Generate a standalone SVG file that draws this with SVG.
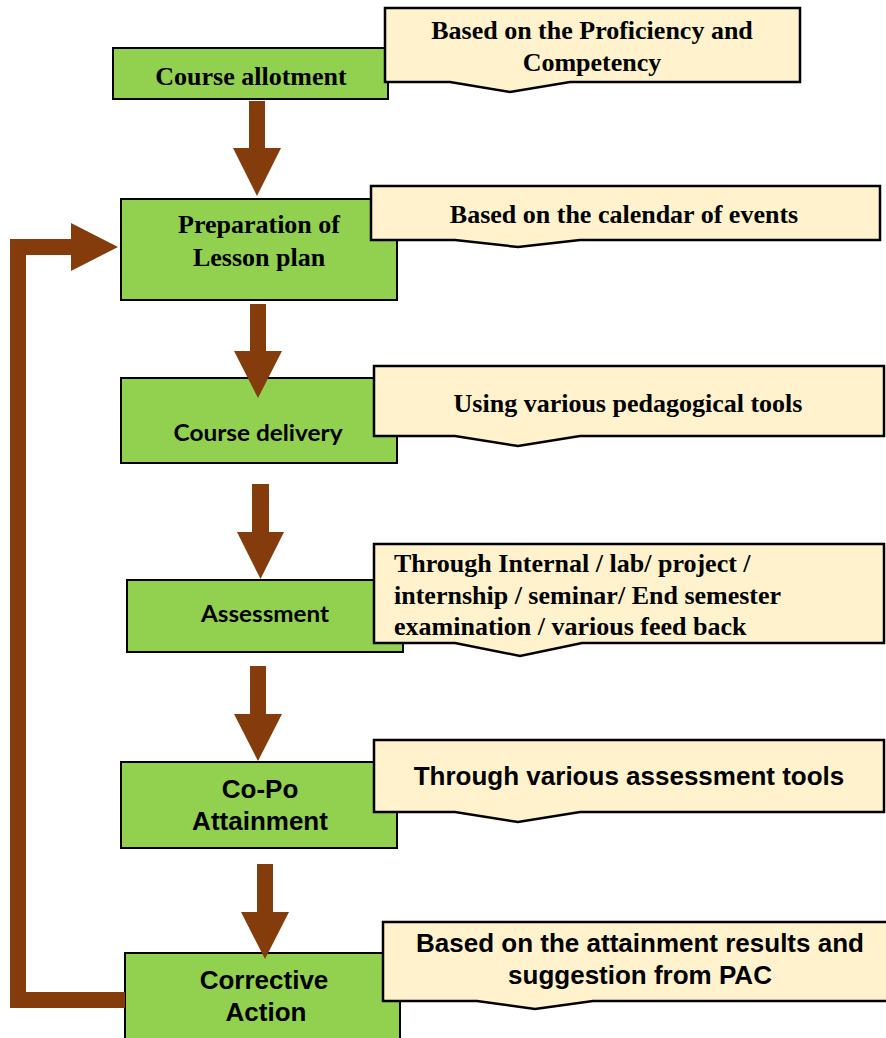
<svg xmlns="http://www.w3.org/2000/svg" width="886" height="1038" viewBox="0 0 886 1038">
<style>
.box{fill:#92D050;stroke:#000;stroke-width:2}
.call{fill:#FFF2CC;stroke:#000;stroke-width:2.5;stroke-linejoin:miter}
.arr{fill:#843C0C}
.tr{font-family:"Liberation Serif","Times New Roman",serif;font-weight:bold;font-size:26px;fill:#000}
.ar{font-family:"Liberation Sans",Arial,sans-serif;font-weight:bold;font-size:26px;fill:#000}
.ca{font-family:Lato,"Open Sans",sans-serif;font-weight:bold;font-size:22px;fill:#000}
.mid{text-anchor:middle}
</style>
<rect width="886" height="1038" fill="#fff"/>

<g id="node-course-allotment">
<rect class="box" x="113" y="48" width="275" height="51"/>
<text class="tr mid" x="251" y="85">Course allotment</text>
</g>
<g id="note-proficiency">
<path class="call" d="M385 8 H800 V82 H570 L510 92 L450 82 H385 Z"/>
<text class="tr mid" x="592" y="39">Based on the Proficiency and</text>
<text class="tr mid" x="592" y="71">Competency</text>
</g>

<g id="node-lesson-plan">
<rect class="box" x="121" y="199" width="276" height="101"/>
<text class="tr mid" x="259" y="233">Preparation of</text>
<text class="tr mid" x="259" y="266">Lesson plan</text>
</g>
<g id="note-calendar">
<path class="call" d="M371 186 H880 V240 H580 L518 247 L455 240 H371 Z"/>
<text class="tr mid" x="624" y="223">Based on the calendar of events</text>
</g>

<g id="node-course-delivery">
<rect class="box" x="121" y="378" width="276" height="85"/>
<text class="ca mid" x="258" y="441" textLength="169" lengthAdjust="spacingAndGlyphs">Course delivery</text>
</g>
<g id="note-pedagogical">
<path class="call" d="M374 366 H884 V436 H580 L518 446 L455 436 H374 Z"/>
<text class="tr mid" x="628" y="412">Using various pedagogical tools</text>
</g>

<g id="node-assessment">
<rect class="box" x="127" y="580" width="276" height="72"/>
<text class="ca mid" x="265" y="622" textLength="128" lengthAdjust="spacingAndGlyphs">Assessment</text>
</g>
<g id="note-internal">
<path class="call" d="M374 544 H884 V643 H582 L520 656 L455 643 H374 Z"/>
<text class="tr" x="394" y="572">Through Internal / lab/ project /</text>
<text class="tr" x="394" y="604">internship / seminar/ End semester</text>
<text class="tr" x="394" y="635">examination / various feed back</text>
</g>

<g id="node-copo">
<rect class="box" x="121" y="762" width="276" height="86"/>
<text class="ar mid" x="260" y="798">Co-Po</text>
<text class="ar mid" x="260" y="830">Attainment</text>
</g>
<g id="note-assessment-tools">
<path class="call" d="M374 740 H884 V812 H580 L518 822 L455 812 H374 Z"/>
<text class="ar mid" x="629" y="785">Through various assessment tools</text>
</g>

<g id="node-corrective">
<rect class="box" x="125" y="953" width="275" height="95"/>
<text class="ar mid" x="264" y="989">Corrective</text>
<text class="ar mid" x="266" y="1021">Action</text>
</g>
<g id="note-attainment">
<path class="call" d="M383 922 H892 V1001 H593 L535 1009 L477 1001 H383 Z"/>
<text class="ar mid" x="640" y="952">Based on the attainment results and</text>
<text class="ar mid" x="640" y="984">suggestion from PAC</text>
</g>

<g id="connectors">
<polygon class="arr" points="249,101 265,101 265,148 281,148 257,196 233,148 249,148"/>
<polygon class="arr" points="250,304 266,304 266,351 282,351 258,398 234,351 250,351"/>
<polygon class="arr" points="252,484 269,484 269,532 284,532 260.5,579 237,532 252,532"/>
<polygon class="arr" points="250,666 266,666 266,714 282,714 258,761 234,714 250,714"/>
<polygon class="arr" points="257,864 273,864 273,912 289,912 265,959 241,912 257,912"/>
<polyline points="125,1000 18,1000 18,247 73,247" fill="none" stroke="#843C0C" stroke-width="16" stroke-linejoin="miter"/>
<polygon class="arr" points="71,223 118,247 71,271"/>
</g>
</svg>
